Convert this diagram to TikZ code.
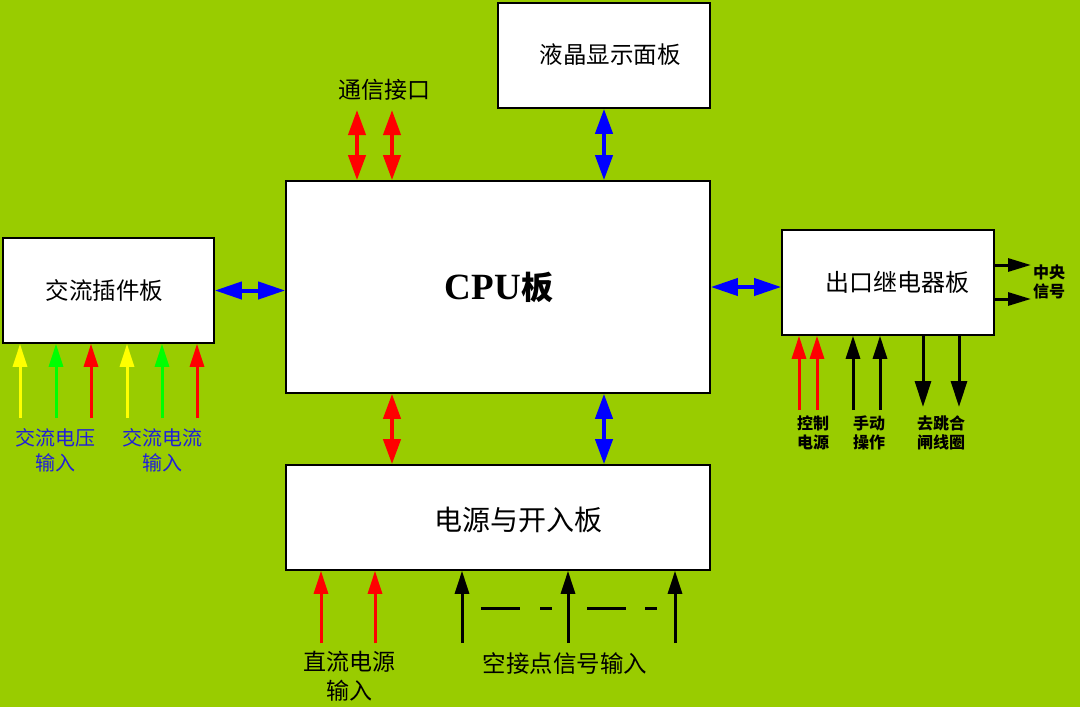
\documentclass[tikz,border=0pt]{standalone}
\usepackage{fontspec}
\setmainfont{Liberation Serif}
\newfontfamily\cjk{Noto Sans CJK SC}
\usetikzlibrary{arrows.meta}
\definecolor{bg}{HTML}{99CC00}
\definecolor{ared}{HTML}{FF0000}
\definecolor{ablue}{HTML}{0000FF}
\definecolor{ayellow}{HTML}{FFFF00}
\definecolor{agreen}{HTML}{00FF00}
\definecolor{tblue}{HTML}{2020D8}
\begin{document}
\begin{tikzpicture}[x=1pt,y=-1pt,
  box/.style={draw=black, line width=1.6pt, fill=white, inner sep=0pt},
  boxtext/.style={font=\cjk\fontsize{23.5}{24}\selectfont, text=black},
  dbl/.style={line width=4pt, {Triangle[length=25pt,width=17pt]}-{Triangle[length=25pt,width=17pt]}},
  hdbl/.style={line width=4pt, {Triangle[length=27pt,width=17pt]}-{Triangle[length=27pt,width=17pt]}},
  inarr/.style={line width=3pt, -{Triangle[length=23pt,width=14pt]}},
  outarr/.style={line width=3pt, -{Triangle[length=26pt,width=16pt]}},
  sigarr/.style={line width=3pt, -{Triangle[length=23pt,width=13pt]}},
  smalllbl/.style={font=\cjk\bfseries\fontsize{16}{19}\selectfont, align=center, text=black},
  midlbl/.style={font=\cjk\fontsize{20}{25}\selectfont, align=center, text=tblue},
  biglbl/.style={font=\cjk\fontsize{23}{29}\selectfont, align=center, text=black},
  dashseg/.style={line width=3pt, black}
]
\fill[bg] (0,0) rectangle (1080,707);
\useasboundingbox (0,0) rectangle (1080,707);

% boxes
\node[box, minimum width=212pt, minimum height=105pt] (lcd) at (604,55.5) {};
\node[box, minimum width=424pt, minimum height=212pt] (cpu) at (498,287) {};
\node[box, minimum width=211pt, minimum height=105pt] (ac) at (108.5,290.5) {};
\node[box, minimum width=212pt, minimum height=105pt] (relay) at (888,282.5) {};
\node[box, minimum width=424pt, minimum height=105pt] (pwr) at (498,517.5) {};

% box texts
\node[boxtext] (lcdt) at (610,55) {液晶显示面板};
\node[font=\bfseries\fontsize{37}{37}\selectfont] (cput) at (499,287) {CPU{\cjk\fontsize{32}{32}\selectfont 板}};
\node[boxtext] (act) at (104.5,290) {交流插件板};
\node[font=\cjk\fontsize{24}{24}\selectfont] (relayt) at (897,282) {出口继电器板};
\node[font=\cjk\fontsize{28}{28}\selectfont] (pwrt) at (518,520) {电源与开入板};

% communication interface
\node[font=\cjk\fontsize{23}{23}\selectfont] (comm) at (384,90) {通信接口};
\coordinate (cm1) at (357,110);
\coordinate (cm2) at (392,110);
\draw[dbl, ared] (cm1) -- (cm1 |- cpu.north);
\draw[dbl, ared] (cm2) -- (cm2 |- cpu.north);

% lcd - cpu
\coordinate (lc) at (604,0);
\draw[dbl, ablue] (lc |- lcd.south) -- (lc |- cpu.north);

% ac - cpu, cpu - relay
\draw[hdbl, ablue] (ac.east) -- (ac.east -| cpu.west);
\coordinate (rl) at (0,287);
\draw[hdbl, ablue] (rl -| cpu.east) -- (rl -| relay.west);

% cpu - power
\coordinate (pc1) at (392,0);
\coordinate (pc2) at (604,0);
\draw[dbl, ared] (pc1 |- cpu.south) -- (pc1 |- pwr.north);
\draw[dbl, ablue] (pc2 |- cpu.south) -- (pc2 |- pwr.north);

% AC inputs
\foreach \x/\c [count=\i] in {20/ayellow,56/agreen,91/ared,127/ayellow,162/agreen,197/ared}{
  \coordinate (ai\i) at (\x,418);
  \draw[inarr, \c] (ai\i) -- (ai\i |- ac.south);
}
\node[midlbl] (acv) at (56,450) {交流电压\\输入};
\node[midlbl] (aci) at (162,450) {交流电流\\输入};

% relay inputs / outputs
\coordinate (ri1) at (799,410);
\coordinate (ri2) at (817,410);
\coordinate (ri3) at (853,410);
\coordinate (ri4) at (880,410);
\draw[inarr, ared] (ri1) -- (ri1 |- relay.south);
\draw[inarr, ared] (ri2) -- (ri2 |- relay.south);
\draw[inarr, black] (ri3) -- (ri3 |- relay.south);
\draw[inarr, black] (ri4) -- (ri4 |- relay.south);
\coordinate (ro1) at (923,407);
\coordinate (ro2) at (959,407);
\draw[outarr, black] (ro1 |- relay.south) -- (ro1);
\draw[outarr, black] (ro2 |- relay.south) -- (ro2);
\node[smalllbl] (l1) at (813,433) {控制\\电源};
\node[smalllbl] (l2) at (869,433) {手动\\操作};
\node[smalllbl] (l3) at (941,433) {去跳合\\闸线圈};

% central signal
\coordinate (s1) at (1031,265);
\coordinate (s2) at (1031,299);
\draw[sigarr, black] (s1 -| relay.east) -- (s1);
\draw[sigarr, black] (s2 -| relay.east) -- (s2);
\node[smalllbl] (sig) at (1049,282) {中央\\信号};

% power inputs
\coordinate (p1) at (321,643);
\coordinate (p2) at (375,643);
\coordinate (p3) at (462,643);
\coordinate (p4) at (568,643);
\coordinate (p5) at (675,643);
\draw[inarr, ared] (p1) -- (p1 |- pwr.south);
\draw[inarr, ared] (p2) -- (p2 |- pwr.south);
\draw[inarr, black] (p3) -- (p3 |- pwr.south);
\draw[inarr, black] (p4) -- (p4 |- pwr.south);
\draw[inarr, black] (p5) -- (p5 |- pwr.south);
\coordinate (d1a) at (481,608); \coordinate (d1b) at (520,608);
\coordinate (d2a) at (540,608); \coordinate (d2b) at (552,608);
\coordinate (d3a) at (587,608); \coordinate (d3b) at (626,608);
\coordinate (d4a) at (645,608); \coordinate (d4b) at (657,608);
\draw[dashseg] (d1a) -- (d1b);
\draw[dashseg] (d2a) -- (d2b);
\draw[dashseg] (d3a) -- (d3b);
\draw[dashseg] (d4a) -- (d4b);
\node[biglbl] (dc) at (349,676) {直流电源\\输入};
\node[font=\cjk\fontsize{23.5}{24}\selectfont] (dry) at (565,664) {空接点信号输入};
\end{tikzpicture}
\end{document}
